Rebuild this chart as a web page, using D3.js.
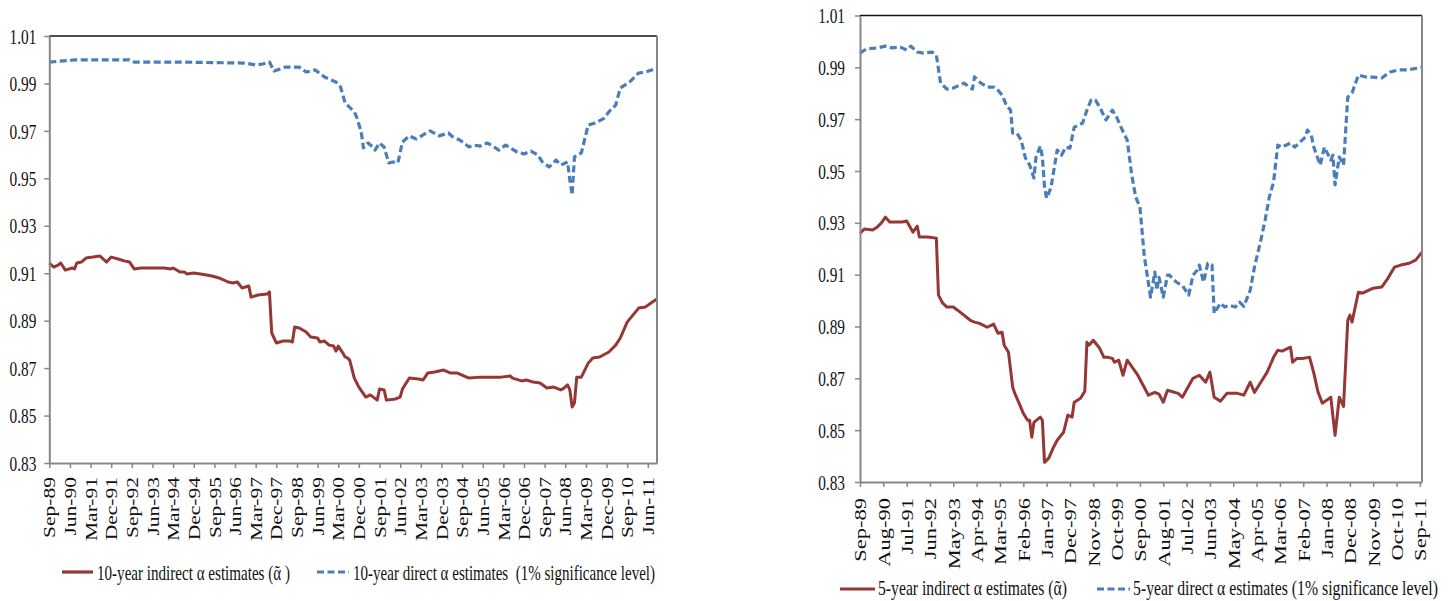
<!DOCTYPE html>
<html>
<head>
<meta charset="utf-8">
<script src="https://cdn.jsdelivr.net/npm/d3@7/dist/d3.min.js"></script>
<style>
  html, body { margin: 0; padding: 0; background: #fff; }
  svg { display: block; }
  text { font-family: "Liberation Serif", "Times New Roman", serif; fill: #111; }
</style>
</head>
<body>
<svg id="chart" width="1451" height="601"></svg>
<script>
// ---------------- DATA ----------------
// x values are months since Sep-1989
const yTickValues = [0.83, 0.85, 0.87, 0.89, 0.91, 0.93, 0.95, 0.97, 0.99, 1.01];

const tickLabels10 = ["Sep-89","Jun-90","Mar-91","Dec-91","Sep-92","Jun-93","Mar-94","Dec-94","Sep-95","Jun-96",
  "Mar-97","Dec-97","Sep-98","Jun-99","Mar-00","Dec-00","Sep-01","Jun-02","Mar-03","Dec-03",
  "Sep-04","Jun-05","Mar-06","Dec-06","Sep-07","Jun-08","Mar-09","Dec-09","Sep-10","Jun-11"];
const tickLabels5 = ["Sep-89","Aug-90","Jul-91","Jun-92","May-93","Apr-94","Mar-95","Feb-96","Jan-97","Dec-97",
  "Nov-98","Oct-99","Sep-00","Aug-01","Jul-02","Jun-03","May-04","Apr-05","Mar-06","Feb-07",
  "Jan-08","Dec-08","Nov-09","Oct-10","Sep-11"];
const tickStep10 = 9, tickStep5 = 11, lastMonth = 265;

const indirect10 = [[0,0.9143],[2,0.9126],[4,0.9135],[5,0.9143],[7,0.9113],[10,0.9122],[11,0.9118],[12,0.9143],[14,0.9147],[16,0.9164],[19,0.9168],[22,0.9173],[25,0.9147],[27,0.9168],[30,0.9160],[33,0.9151],[35,0.9147],[37,0.9118],[40,0.9122],[47,0.9122],[50,0.9122],[53,0.9118],[54,0.9122],[57,0.9105],[59,0.9105],[60,0.9097],[63,0.9101],[66,0.9097],[71,0.9088],[74,0.9080],[78,0.9063],[80,0.9059],[82,0.9063],[84,0.9038],[87,0.9046],[88,0.8999],[91,0.9008],[95,0.9012],[96,0.9021],[97,0.8848],[99,0.8806],[102,0.8814],[105,0.8814],[106,0.8810],[107,0.8873],[109,0.8869],[112,0.8852],[114,0.8831],[117,0.8827],[118,0.8810],[120,0.8814],[122,0.8797],[124,0.8793],[125,0.8772],[126,0.8793],[128,0.8764],[129,0.8747],[130,0.8743],[131,0.8734],[133,0.8658],[135,0.8620],[138,0.8578],[140,0.8587],[143,0.8565],[144,0.8612],[146,0.8608],[147,0.8565],[151,0.8570],[153,0.8578],[154,0.8612],[157,0.8658],[161,0.8654],[163,0.8650],[165,0.8679],[168,0.8684],[172,0.8692],[175,0.8679],[178,0.8679],[183,0.8658],[188,0.8662],[197,0.8662],[201,0.8667],[202,0.8658],[206,0.8646],[208,0.8650],[211,0.8641],[214,0.8637],[217,0.8616],[220,0.8620],[223,0.8608],[224,0.8612],[226,0.8629],[227,0.8608],[228,0.8536],[229,0.8553],[230,0.8662],[232,0.8662],[235,0.8721],[237,0.8743],[240,0.8747],[244,0.8768],[247,0.8797],[249,0.8827],[252,0.8894],[257,0.8953],[260,0.8958],[263,0.8979],[265,0.8991]];

const direct10 = [[0,0.9990],[11,0.9999],[35,0.9999],[37,0.9990],[57,0.9990],[85,0.9986],[90,0.9978],[93,0.9982],[96,0.9990],[98,0.9952],[103,0.9969],[109,0.9969],[112,0.9948],[116,0.9957],[120,0.9927],[125,0.9906],[127,0.9885],[129,0.9818],[133,0.9780],[134,0.9759],[136,0.9696],[137,0.9628],[139,0.9649],[141,0.9632],[142,0.9619],[144,0.9649],[146,0.9632],[148,0.9565],[150,0.9569],[152,0.9565],[154,0.9653],[157,0.9679],[160,0.9666],[163,0.9683],[166,0.9700],[170,0.9679],[174,0.9691],[176,0.9674],[179,0.9662],[183,0.9632],[185,0.9640],[188,0.9636],[191,0.9649],[194,0.9632],[196,0.9619],[199,0.9640],[201,0.9628],[204,0.9611],[207,0.9603],[210,0.9615],[213,0.9598],[215,0.9569],[218,0.9548],[221,0.9577],[223,0.9556],[226,0.9569],[227,0.9493],[228,0.9430],[229,0.9590],[232,0.9607],[235,0.9725],[238,0.9733],[242,0.9754],[244,0.9780],[247,0.9809],[249,0.9881],[253,0.9906],[257,0.9944],[260,0.9948],[265,0.9965]];

const indirect5 = [[0,0.9260],[2,0.9276],[6,0.9272],[8,0.9283],[10,0.9299],[12,0.9322],[14,0.9303],[17,0.9303],[20,0.9303],[22,0.9307],[25,0.9264],[27,0.9287],[28,0.9245],[32,0.9245],[36,0.9241],[37,0.9021],[39,0.8990],[41,0.8975],[44,0.8975],[46,0.8963],[49,0.8944],[52,0.8924],[54,0.8917],[56,0.8913],[58,0.8905],[60,0.8897],[63,0.8909],[65,0.8874],[67,0.8878],[68,0.8828],[70,0.8801],[72,0.8666],[73,0.8642],[75,0.8604],[77,0.8565],[79,0.8538],[80,0.8538],[81,0.8473],[82,0.8530],[85,0.8550],[86,0.8538],[87,0.8376],[89,0.8392],[91,0.8430],[93,0.8461],[96,0.8492],[98,0.8558],[100,0.8550],[101,0.8608],[104,0.8623],[106,0.8650],[107,0.8839],[108,0.8828],[110,0.8847],[113,0.8816],[115,0.8781],[117,0.8781],[119,0.8777],[120,0.8762],[122,0.8770],[124,0.8712],[126,0.8770],[131,0.8712],[136,0.8635],[139,0.8646],[141,0.8639],[143,0.8608],[145,0.8654],[150,0.8642],[152,0.8627],[157,0.8700],[160,0.8712],[163,0.8685],[165,0.8724],[167,0.8627],[170,0.8612],[173,0.8642],[178,0.8642],[181,0.8635],[184,0.8685],[186,0.8646],[189,0.8685],[192,0.8724],[195,0.8781],[197,0.8808],[199,0.8805],[203,0.8820],[204,0.8762],[206,0.8777],[209,0.8777],[212,0.8781],[214,0.8720],[216,0.8646],[218,0.8604],[220,0.8615],[222,0.8627],[224,0.8480],[226,0.8627],[228,0.8592],[230,0.8924],[231,0.8944],[232,0.8917],[235,0.9032],[237,0.9029],[242,0.9048],[246,0.9052],[249,0.9087],[252,0.9129],[255,0.9137],[259,0.9144],[262,0.9156],[265,0.9187]];

const direct5 = [[0,0.9955],[3,0.9971],[8,0.9975],[12,0.9982],[15,0.9975],[19,0.9978],[22,0.9967],[24,0.9982],[27,0.9959],[30,0.9955],[34,0.9959],[36,0.9947],[38,0.9839],[41,0.9816],[44,0.9820],[49,0.9839],[53,0.9816],[54,0.9863],[57,0.9839],[60,0.9824],[63,0.9824],[65,0.9812],[67,0.9793],[69,0.9754],[71,0.9735],[72,0.9646],[74,0.9646],[76,0.9619],[78,0.9550],[80,0.9523],[82,0.9473],[83,0.9554],[85,0.9596],[86,0.9554],[87,0.9438],[88,0.9395],[90,0.9434],[93,0.9581],[95,0.9561],[97,0.9592],[99,0.9588],[101,0.9669],[105,0.9685],[107,0.9735],[109,0.9774],[111,0.9774],[113,0.9747],[116,0.9697],[119,0.9735],[121,0.9708],[123,0.9670],[126,0.9619],[128,0.9492],[130,0.9399],[132,0.9361],[134,0.9175],[137,0.9013],[139,0.9110],[140,0.9040],[141,0.9090],[143,0.9013],[145,0.9098],[146,0.9098],[148,0.9079],[150,0.9067],[152,0.9059],[155,0.9021],[157,0.9098],[159,0.9117],[160,0.9137],[162,0.9071],[164,0.9144],[166,0.9137],[167,0.8951],[170,0.8990],[172,0.8975],[174,0.8982],[177,0.8975],[179,0.8994],[181,0.8978],[184,0.9040],[186,0.9129],[189,0.9233],[191,0.9310],[193,0.9399],[195,0.9457],[197,0.9600],[199,0.9592],[203,0.9608],[205,0.9592],[207,0.9608],[210,0.9631],[211,0.9658],[213,0.9631],[214,0.9592],[217,0.9523],[219,0.9592],[222,0.9542],[223,0.9561],[224,0.9446],[226,0.9554],[228,0.9523],[230,0.9785],[232,0.9801],[235,0.9870],[239,0.9862],[242,0.9862],[246,0.9859],[250,0.9882],[254,0.9890],[258,0.9890],[263,0.9897],[265,0.9901]];

const legend10 = ["10-year indirect \u03B1 estimates (\u1FB6 )", "10-year direct \u03B1 estimates  (1% significance level)"];
const legend5  = ["5-year indirect \u03B1 estimates (\u1FB6)", "5-year direct \u03B1 estimates (1% significance level)"];

// ---------------- DRAWING ----------------
const RED = "#953735", BLUE = "#4a7ebb", AXIS = "#878787";
const SX = 0.73; // horizontal squeeze of glyphs (reference is vertically stretched)
const svg = d3.select("#chart");

function drawPanel(cfg) {
  const x = d3.scaleLinear().domain([0, lastMonth]).range([cfg.x0, cfg.x1]);
  const y = d3.scaleLinear().domain([0.83, 1.01]).range([cfg.y1, cfg.y0]);
  const g = svg.append("g");

  // series
  const line = d3.line().x(d => x(d[0])).y(d => y(d[1]));
  g.append("path").datum(cfg.direct).attr("d", line)
    .attr("fill", "none").attr("stroke", BLUE).attr("stroke-width", 3.2)
    .attr("stroke-dasharray", "7,3.5").attr("stroke-linejoin", "round");
  g.append("path").datum(cfg.indirect).attr("d", line)
    .attr("fill", "none").attr("stroke", RED).attr("stroke-width", 3)
    .attr("stroke-linejoin", "round");

  // plot border: top (dark), right (gray)
  g.append("line").attr("x1", cfg.x0).attr("x2", cfg.x1).attr("y1", cfg.y0).attr("y2", cfg.y0)
    .attr("stroke", "#111").attr("stroke-width", 1.3);
  g.append("line").attr("x1", cfg.x1).attr("x2", cfg.x1).attr("y1", cfg.y0).attr("y2", cfg.y1)
    .attr("stroke", AXIS).attr("stroke-width", 2);

  // y axis
  const ya = g.append("g").attr("transform", `translate(${cfg.x0},0)`)
    .call(d3.axisLeft(y).tickValues(yTickValues).tickFormat(d3.format(".2f")).tickSize(5).tickSizeOuter(0));
  ya.select(".domain").attr("stroke", AXIS).attr("stroke-width", 2);
  ya.selectAll(".tick line").attr("stroke", AXIS).attr("stroke-width", 1.5);
  ya.selectAll(".tick text")
    .attr("x", null).attr("dy", "0.34em")
    .attr("transform", `translate(${-cfg.yLabelGap},0) scale(${SX},1)`)
    .attr("font-size", 21).attr("font-family", "Liberation Serif").attr("fill", "#111");

  // x axis
  const tv = cfg.labels.map((_, i) => i * cfg.step);
  const xa = g.append("g").attr("transform", `translate(0,${cfg.y1})`)
    .call(d3.axisBottom(x).tickValues(tv).tickFormat((d, i) => cfg.labels[i]).tickSize(5).tickSizeOuter(0));
  xa.select(".domain").attr("stroke", AXIS).attr("stroke-width", 2);
  xa.selectAll(".tick line").attr("stroke", AXIS).attr("stroke-width", 1.5);
  xa.selectAll(".tick text")
    .attr("y", null).attr("x", 0).attr("dy", "0.36em")
    .attr("text-anchor", "end")
    .attr("transform", `translate(0,${cfg.xLabelGap}) scale(${SX},1) rotate(-90)`)
    .attr("font-size", cfg.xFont).attr("font-family", "Liberation Serif").attr("fill", "#111");

  // legend
  const lg = svg.append("g");
  const items = [
    {c: RED, dash: null, t: cfg.legend[0], l0: cfg.leg[0], l1: cfg.leg[1], tx: cfg.leg[2], tw: cfg.leg[3]},
    {c: BLUE, dash: "7,3.5", t: cfg.legend[1], l0: cfg.leg[4], l1: cfg.leg[5], tx: cfg.leg[6], tw: cfg.leg[7]}
  ];
  items.forEach(it => {
    lg.append("line").attr("x1", it.l0).attr("x2", it.l1).attr("y1", cfg.legY).attr("y2", cfg.legY)
      .attr("stroke", it.c).attr("stroke-width", 3.2).attr("stroke-dasharray", it.dash);
    lg.append("text")
      .attr("transform", `translate(${it.tx},${cfg.legBase}) scale(${SX},1)`)
      .attr("font-size", 20).attr("font-family", "Liberation Serif")
      .style("white-space", "pre")
      .attr("textLength", it.tw / SX).attr("lengthAdjust", "spacingAndGlyphs")
      .text(it.t);
  });
}

drawPanel({
  x0: 49.3, x1: 657, y0: 36, y1: 463,
  indirect: indirect10, direct: direct10,
  labels: tickLabels10, step: tickStep10,
  yLabelGap: 13, xLabelGap: 14, xFont: 21.5,
  legend: legend10, legY: 572, legBase: 580,
  leg: [62, 93, 97, 193, 317, 349, 353, 302]
});

drawPanel({
  x0: 860, x1: 1422, y0: 15.5, y1: 482,
  indirect: indirect5, direct: direct5,
  labels: tickLabels5, step: tickStep5,
  yLabelGap: 15, xLabelGap: 16, xFont: 22.5,
  legend: legend5, legY: 589, legBase: 595,
  leg: [840, 875, 878, 189, 1097, 1130, 1133, 305]
});
</script>
</body>
</html>
